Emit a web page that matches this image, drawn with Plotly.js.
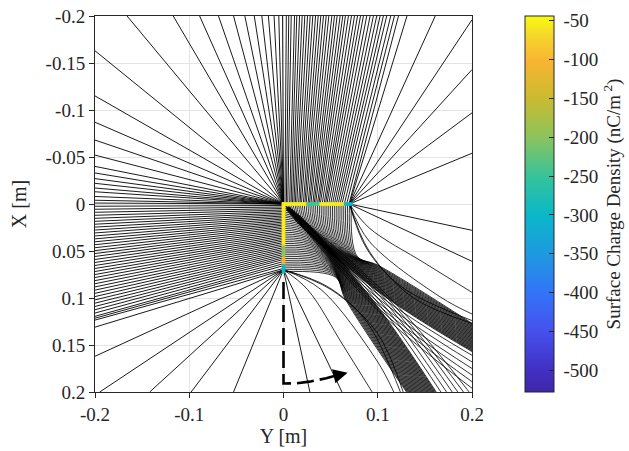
<!DOCTYPE html>
<html><head><meta charset="utf-8">
<script src="https://cdn.plot.ly/plotly-3.0.1.min.js"></script>
<style>html,body{margin:0;padding:0;background:#fff}#chart{width:629px;height:451px}</style>
</head><body><div id="chart"></div>
<script>
// ---- axis ticks ----
const xTickVals = [-0.2, -0.1, 0, 0.1, 0.2];
const xTickText = ["-0.2", "-0.1", "0", "0.1", "0.2"];
const yTickVals = [-0.2, -0.15, -0.1, -0.05, 0, 0.05, 0.1, 0.15, 0.2];
const yTickText = ["-0.2", "-0.15", "-0.1", "-0.05", "0", "0.05", "0.1", "0.15", "0.2"];
const cbTickVals = [-500, -450, -400, -350, -300, -250, -200, -150, -100, -50];
const cbTickText = ["-500", "-450", "-400", "-350", "-300", "-250", "-200", "-150", "-100", "-50"];
const rhoMin = -528, rhoMax = -44;

// ---- conductor (L-shape) samples and surface charge density ----
const condPos = [0,0.002,0.004,0.006,0.008,0.01,0.012,0.014,0.016,0.018,0.02,0.022,0.024,0.026,0.028,0.03,0.032,0.034,0.036,0.038,0.04,0.042,0.044,0.046,0.048,0.05,0.052,0.054,0.056,0.058,0.06,0.062,0.064,0.066,0.068,0.07,0.072];
const rhoHorizontal = [-55,-55,-55,-55,-55,-55,-55,-55,-55,-55,-55,-55,-60,-240,-245,-250,-245,-240,-235,-230,-60,-55,-55,-55,-55,-55,-55,-55,-55,-55,-55,-60,-70,-290,-300,-305,-300];
const rhoVertical = [-55,-55,-55,-55,-55,-55,-55,-55,-55,-55,-55,-55,-55,-55,-55,-55,-55,-55,-55,-55,-55,-60,-65,-200,-205,-200,-195,-190,-185,-110,-105,-110,-115,-295,-300,-305,-300];

// ---- field lines ----
// corner (0,0) fan
const cornerTopEndY = [-0.166, -0.117, -0.089, -0.069, -0.053, -0.041, -0.031, -0.023, -0.016, -0.010, -0.005];
const cornerLeftEndX = [-0.163, -0.115, -0.087, -0.068, -0.052, -0.040, -0.033, -0.027, -0.022, -0.017, -0.013, -0.008, -0.004];
// outer side of horizontal arm -> top edge
const topStartY = [0.000,0.0015,0.003,0.0045,0.0065,0.008,0.0095,0.011,0.0125,0.014,0.016,0.0175,0.019,0.021,0.0225,0.024,0.026,0.0275,0.029,0.031,0.0325,0.034,0.036,0.0375,0.039,0.041,0.043,0.0445,0.046,0.048,0.05,0.052,0.054,0.056,0.058,0.06,0.062,0.0645,0.067,0.0695];
const topEndY = [-0.001,0.003,0.0056,0.0082,0.0117,0.0141,0.017,0.0198,0.0226,0.0255,0.0283,0.0311,0.034,0.0368,0.0396,0.0424,0.0453,0.0481,0.0513,0.0541,0.0569,0.0601,0.0629,0.0657,0.0689,0.0721,0.0753,0.0785,0.0817,0.0848,0.0883,0.0919,0.0954,0.0989,0.1025,0.106,0.1095,0.1138,0.1177,0.122];
// outer side of vertical arm -> left edge
const leftStartX = [0.000,0.0016,0.0032,0.0048,0.0064,0.008,0.0096,0.0112,0.0128,0.0144,0.016,0.0176,0.0192,0.0208,0.0224,0.024,0.0257,0.0274,0.0291,0.0308,0.0325,0.0342,0.0359,0.0376,0.0393,0.041,0.0428,0.0446,0.0464,0.0482,0.05,0.0518,0.0536,0.0554,0.0572,0.059,0.0612,0.0634,0.0656,0.0685];
const leftEndX = [-0.001,0.0024,0.0056,0.0088,0.012,0.0152,0.0184,0.0215,0.0246,0.0277,0.0308,0.034,0.0371,0.0402,0.0433,0.0465,0.0496,0.0527,0.0558,0.059,0.0622,0.0654,0.0686,0.0718,0.075,0.0782,0.0815,0.0848,0.0882,0.0916,0.095,0.0985,0.102,0.1055,0.109,0.1125,0.116,0.1195,0.1215,0.1235];
// tip of horizontal arm (0.07, 0)
const tipTopEndY = [0.131, 0.161];
const tipRightEndX = [-0.196, -0.143, -0.097, -0.054, 0.028, 0.061];
const tipCurveMidY = [0.091, 0.091, 0.091, 0.088];
const tipCurveMidX = [0.0255, 0.0397, 0.0503, 0.047];
const tipCurveMid2Y = [0.15, 0.167, 0.137, 0.125];
const tipCurveMid2X = [0.063, 0.0993, 0.0993, 0.088];
const tipCurveEndX = [0.094, 0.117, 0.127, 0.124];
// tip of vertical arm (0, 0.07)
const lowTipLeftEndX = [0.131, 0.162];
const lowTipBottomEndY = [-0.195, -0.142, -0.098, -0.053, 0.028, 0.062];
const lowTipCurveMidX = [0.091, 0.091, 0.091, 0.088];
const lowTipCurveMidY = [0.0255, 0.0397, 0.0503, 0.047];
const lowTipCurveMid2X = [0.15, 0.167, 0.137, 0.125];
const lowTipCurveMid2Y = [0.063, 0.0993, 0.0993, 0.088];
const lowTipCurveEndY = [0.094, 0.117, 0.127, 0.124];
// inner sides of both arms (the L is symmetric about its diagonal):
// start along the arm, bend point on the band edge (along / across), crossing of the band at 0.1
const innerStart = [0.002,0.004,0.006,0.008,0.01,0.012,0.014,0.016,0.018,0.02,0.022,0.024,0.026,0.028,0.03,0.032,0.034,0.036,0.038,0.04,0.042,0.044,0.046,0.048,0.05,0.052,0.054,0.056,0.058,0.06,0.062,0.064,0.066,0.068,0.07,0.072];
const innerBendAlong = [0.008,0.010,0.012,0.014,0.016,0.018,0.020,0.022,0.024,0.026,0.028,0.030,0.032,0.034,0.036,0.038,0.040,0.042,0.044,0.046,0.048,0.050,0.052,0.054,0.056,0.058,0.060,0.062,0.064,0.066,0.068,0.070,0.072,0.074,0.076,0.078];
const innerBendAcross = [0.012,0.0132,0.0144,0.0157,0.0169,0.0182,0.0194,0.0206,0.0219,0.0231,0.0244,0.0256,0.0268,0.0281,0.0293,0.0306,0.0318,0.033,0.0343,0.0355,0.0368,0.038,0.0392,0.0405,0.0417,0.043,0.0442,0.0454,0.0467,0.0479,0.0492,0.0504,0.0516,0.0529,0.0541,0.0554];
const bandCross = 0.1;
const innerMidAcross = [0.093,0.0922,0.0914,0.0906,0.0898,0.089,0.0882,0.0874,0.0866,0.0858,0.085,0.0842,0.0834,0.0826,0.0818,0.081,0.0802,0.0794,0.0786,0.0778,0.077,0.0762,0.0754,0.0746,0.0738,0.073,0.0722,0.0714,0.0706,0.0698,0.069,0.0682,0.0674,0.0666,0.0658,0.065];
// band of horizontal-arm lines on the right edge, band of vertical-arm lines on the bottom edge
const bandEndRight = [0.157,0.1561,0.1553,0.1544,0.1536,0.1527,0.1518,0.151,0.1501,0.1493,0.1484,0.1475,0.1467,0.1458,0.145,0.1441,0.1432,0.1424,0.1415,0.1407,0.1398,0.1389,0.1381,0.1372,0.1364,0.1355,0.1346,0.1338,0.1329,0.1321,0.1312,0.1303,0.1295,0.1286,0.1278,0.1269];
const bandEndBottom = [0.162,0.1611,0.1602,0.1593,0.1584,0.1575,0.1566,0.1557,0.1548,0.1539,0.153,0.1521,0.1512,0.1503,0.1494,0.1485,0.1476,0.1467,0.1458,0.1449,0.144,0.1431,0.1422,0.1413,0.1404,0.1395,0.1386,0.1377,0.1368,0.1359,0.135,0.1341,0.1332,0.1323,0.1314,0.1305];
// lines out of the inner corner along the diagonal, splitting to the right and bottom edges
const diagStartA = [0.003,0.004,0.005,0.006,0.004,0.005];
const diagStartB = [0.006,0.005,0.004,0.003,0.003,0.006];
const diagMid = [0.096,0.1,0.104,0.107,0.11,0.113];
const diagEndRight = [0.161,0.168,0.175,0.182,0.189,0.196];
const diagEndBottom = [0.167,0.173,0.179,0.185,0.191,0.197];
// dashed path with arrow
const pathY = [0, 0, 0.0135, 0.0276, 0.0453, 0.056];
const pathX = [0.083, 0.191, 0.1907, 0.189, 0.1854, 0.1825];
const arrowTip = [0.068, 0.1795];

const L = -0.2, R = 0.2, T = -0.2, B = 0.2; // axis limits

const sx = [], sy = [], cx = [], cy = [];
function seg(xa, ya, pts){ pts.forEach(p => { xa.push(p[0]); ya.push(p[1]); }); xa.push(null); ya.push(null); }

cornerTopEndY.forEach(v => seg(sx, sy, [[0,0],[v,T]]));
cornerLeftEndX.forEach(v => seg(sx, sy, [[0,0],[L,v]]));
topStartY.forEach((s,i) => seg(sx, sy, [[s,0],[topEndY[i],T]]));
leftStartX.forEach((s,i) => seg(sx, sy, [[0,s],[L,leftEndX[i]]]));
tipTopEndY.forEach(v => seg(sx, sy, [[0.07,0],[v,T]]));
tipRightEndX.forEach(v => seg(sx, sy, [[0.07,0],[R,v]]));
lowTipLeftEndX.forEach(v => seg(sx, sy, [[0,0.07],[L,v]]));
lowTipBottomEndY.forEach(v => seg(sx, sy, [[0,0.07],[v,B]]));

tipCurveEndX.forEach((e,i) => seg(cx, cy, [[0.07,0],[tipCurveMidY[i],tipCurveMidX[i]],[tipCurveMid2Y[i],tipCurveMid2X[i]],[R,e]]));
lowTipCurveEndY.forEach((e,i) => seg(cx, cy, [[0,0.07],[lowTipCurveMidY[i],lowTipCurveMidX[i]],[lowTipCurveMid2Y[i],lowTipCurveMid2X[i]],[e,B]]));
innerStart.forEach((s,i) => seg(cx, cy, [[s,0],[innerBendAlong[i],innerBendAcross[i]],[bandCross,innerMidAcross[i]],[R,bandEndRight[i]]]));
innerStart.forEach((s,i) => seg(cx, cy, [[0,s],[innerBendAcross[i],innerBendAlong[i]],[innerMidAcross[i],bandCross],[bandEndBottom[i],B]]));
diagMid.forEach((m,i) => seg(cx, cy, [[diagStartA[i],diagStartB[i]],[bandCross,m],[R,diagEndRight[i]]]));
diagMid.forEach((m,i) => seg(cx, cy, [[diagStartB[i],diagStartA[i]],[m,bandCross],[diagEndBottom[i],B]]));

const condY = condPos.concat(condPos.map(() => 0));
const condX = condPos.map(() => 0).concat(condPos);
const condRho = rhoHorizontal.concat(rhoVertical);

const parula = [[0,'#3e26a8'],[0.06,'#4130c4'],[0.16,'#4650ec'],[0.26,'#3373f8'],[0.37,'#1e9ae0'],[0.47,'#0ab7c8'],[0.57,'#34c39c'],[0.68,'#8dc35b'],[0.78,'#c9bb30'],[0.88,'#f8b432'],[0.95,'#f5d82b'],[1,'#f9fb0e']];

const FONT = 'Liberation Serif, Times New Roman, serif';
const txt = '#262626';
const NB = '\u00a0';

const traces = [
  {x: sx, y: sy, type: 'scatter', mode: 'lines', line: {color: '#000', width: 0.9}, hoverinfo: 'skip', showlegend: false},
  {x: cx, y: cy, type: 'scatter', mode: 'lines', line: {color: '#000', width: 0.8, shape: 'spline', smoothing: 1}, hoverinfo: 'skip', showlegend: false},
  {x: condY, y: condX, type: 'scatter', mode: 'markers', showlegend: false,
   marker: {symbol: 'square', size: 3.5, line: {width: 0}, color: condRho, colorscale: parula, cmin: rhoMin, cmax: rhoMax, showscale: true,
     colorbar: {x: 1.1406, xanchor: 'left', xpad: 0, y: 0.5, yanchor: 'middle', ypad: 0, len: 1, lenmode: 'fraction',
       thickness: 29, thicknessmode: 'pixels', outlinecolor: txt, outlinewidth: 1,
       tickvals: cbTickVals, ticktext: cbTickText.map(t => NB + t), ticks: 'inside', ticklen: 5, tickcolor: txt,
       tickfont: {family: FONT, size: 19, color: txt},
       title: {text: 'Surface Charge Density (nC/m<sup> 2</sup>)', side: 'right', font: {family: FONT, size: 19, color: txt}}}}},
  {x: pathY, y: pathX, type: 'scatter', mode: 'lines', line: {color: '#000', width: 2.6, dash: '17px,6px'}, hoverinfo: 'skip', showlegend: false}
];

const layout = {
  width: 629, height: 451,
  margin: {l: 95, r: 157, t: 16, b: 59, autoexpand: false},
  paper_bgcolor: '#fff', plot_bgcolor: '#fff',
  font: {family: FONT, size: 19, color: txt},
  xaxis: {range: [L, R], tickvals: xTickVals, ticktext: xTickText, showgrid: true, gridcolor: '#e4e4e4', zeroline: false,
    showline: true, linecolor: txt, linewidth: 1, mirror: true, ticks: 'outside', ticklen: 5, tickcolor: txt, automargin: false,
    tickfont: {family: FONT, size: 19, color: txt}, title: {text: 'Y [m]', font: {family: FONT, size: 20, color: txt}, standoff: 2}},
  yaxis: {range: [B, T], tickvals: yTickVals, ticktext: yTickText, showgrid: true, gridcolor: '#e4e4e4', zeroline: false,
    showline: true, linecolor: txt, linewidth: 1, mirror: true, ticks: 'outside', ticklen: 5, tickcolor: txt, automargin: false,
    tickfont: {family: FONT, size: 19, color: txt}, title: {text: 'X [m]', font: {family: FONT, size: 20, color: txt}, standoff: 13}},
  annotations: [{x: arrowTip[0], y: arrowTip[1], ax: pathY[pathY.length-1], ay: pathX[pathX.length-1], axref: 'x', ayref: 'y', xref: 'x', yref: 'y',
    text: '', showarrow: true, arrowhead: 2, arrowsize: 1.1, arrowwidth: 2.6, arrowcolor: '#000', standoff: 0}]
};

Plotly.newPlot('chart', traces, layout, {displayModeBar: false, staticPlot: true});
</script></body></html>
